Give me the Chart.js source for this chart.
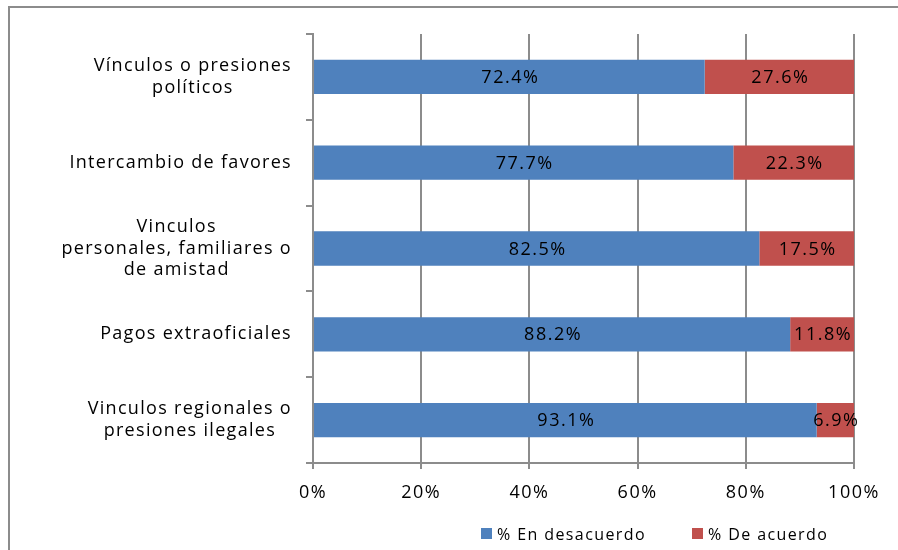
<!DOCTYPE html>
<html lang="es">
<head>
  <meta charset="UTF-8">
  <title>Vínculos y presiones</title>
  <script src="https://cdn.jsdelivr.net/npm/chart.js"></script>
  <style>
    html, body { margin: 0; padding: 0; background: #fff; }
    #wrap { width: 898px; height: 550px; position: relative; }
  </style>
</head>
<body>
  <div id="wrap"><canvas id="chart" width="898" height="550"></canvas></div>
  <script>
    // categories, top to bottom
    const categories = [
      ['Vínculos o presiones', 'políticos'],
      ['Intercambio de favores'],
      ['Vinculos', 'personales, familiares o', 'de amistad'],
      ['Pagos extraoficiales'],
      ['Vinculos regionales o', 'presiones ilegales']
    ];
    const desacuerdo = [72.4, 77.7, 82.5, 88.2, 93.1];
    const deAcuerdo = [27.6, 22.3, 17.5, 11.8, 6.9];
    const seriesNames = ['% En desacuerdo', '% De acuerdo'];
    const xTicks = [0, 20, 40, 60, 80, 100];

    const FONT = '"Open Sans", "DejaVu Sans", sans-serif';
    const GRID = '#8c8c8c';

    // outer frame + wider letter spacing for all canvas text
    const framePlugin = {
      id: 'frame',
      beforeDraw(chart) {
        const ctx = chart.ctx;
        ctx.letterSpacing = '1.5px';
        ctx.save();
        ctx.strokeStyle = '#8c8c8c';
        ctx.lineWidth = 2;
        ctx.beginPath();
        ctx.moveTo(9, 552);
        ctx.lineTo(9, 7);
        ctx.lineTo(900, 7);
        ctx.stroke();
        ctx.restore();
      }
    };

    // category labels: centred lines, block right-aligned to the axis
    const catLabelPlugin = {
      id: 'catLabels',
      afterDraw(chart) {
        const ctx = chart.ctx;
        const y = chart.scales.y;
        ctx.save();
        ctx.font = '18px ' + FONT;
        ctx.letterSpacing = '1.3px';
        ctx.fillStyle = '#000';
        ctx.textAlign = 'center';
        ctx.textBaseline = 'middle';
        const lh = 21.5;
        categories.forEach((lines, i) => {
          const yc = y.getPixelForValue(i);
          const w = Math.max(...lines.map(l => ctx.measureText(l).width));
          const cx = 292 - w / 2;
          const y0 = yc - (lines.length - 1) * lh / 2;
          lines.forEach((l, j) => ctx.fillText(l, cx, y0 + j * lh));
        });
        ctx.restore();
      }
    };

    // value labels in the middle of each segment
    const valuePlugin = {
      id: 'values',
      afterDatasetsDraw(chart) {
        const ctx = chart.ctx;
        ctx.save();
        ctx.font = '18px ' + FONT;
        ctx.letterSpacing = '1.5px';
        ctx.fillStyle = '#000';
        ctx.textAlign = 'center';
        ctx.textBaseline = 'middle';
        chart.data.datasets.forEach((ds, di) => {
          chart.getDatasetMeta(di).data.forEach((bar, i) => {
            const cx = (bar.x + bar.base) / 2 + 1;
            ctx.fillText(ds.data[i].toFixed(1) + '%', cx, bar.y + 1);
          });
        });
        ctx.restore();
      }
    };

    // legend at the bottom
    const legendPlugin = {
      id: 'customLegend',
      afterDraw(chart) {
        const ctx = chart.ctx;
        ctx.save();
        ctx.font = '16px ' + FONT;
        ctx.letterSpacing = '1.4px';
        ctx.textBaseline = 'middle';
        ctx.textAlign = 'left';
        const xs = [481, 692];
        chart.data.datasets.forEach((ds, i) => {
          ctx.fillStyle = ds.backgroundColor;
          ctx.fillRect(xs[i], 528, 11, 11);
          ctx.fillStyle = '#000';
          ctx.fillText(ds.label, xs[i] + 16, 535);
        });
        ctx.restore();
      }
    };

    new Chart(document.getElementById('chart'), {
      type: 'bar',
      data: {
        labels: categories,
        datasets: [
          { label: seriesNames[0], data: desacuerdo, backgroundColor: '#4F81BD' },
          { label: seriesNames[1], data: deAcuerdo, backgroundColor: '#C0504D' }
        ]
      },
      options: {
        indexAxis: 'y',
        responsive: false,
        animation: false,
        barPercentage: 0.4,
        categoryPercentage: 1,
        layout: { padding: { top: 34, right: 44, bottom: 0, left: 0 } },
        plugins: {
          legend: { display: false },
          tooltip: { enabled: false }
        },
        scales: {
          x: {
            stacked: true,
            min: 0,
            max: 100,
            afterFit(scale) { scale.height = 87; },
            afterBuildTicks(scale) { scale.ticks = xTicks.map(v => ({ value: v })); },
            grid: { color: GRID, lineWidth: 2, tickLength: 6 },
            border: { color: GRID, width: 2 },
            ticks: {
              color: '#000',
              font: { family: FONT, size: 18 },
              padding: 13,
              maxRotation: 0,
              callback: v => v + '%'
            }
          },
          y: {
            stacked: true,
            afterFit(scale) { scale.width = 313; },
            grid: { drawOnChartArea: false, offset: true, color: GRID, lineWidth: 2, tickLength: 7 },
            border: { color: GRID, width: 2 },
            ticks: { display: false }
          }
        }
      },
      plugins: [framePlugin, catLabelPlugin, valuePlugin, legendPlugin]
    });
  </script>
</body>
</html>
